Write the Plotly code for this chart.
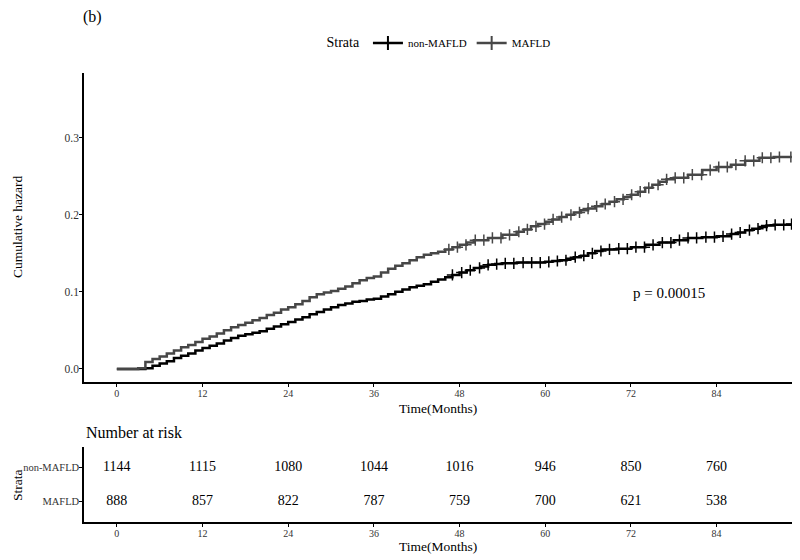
import numpy as np
import plotly.graph_objects as go

# ---------------- data ----------------
groups = ["non-MAFLD", "MAFLD"]
colors = {"non-MAFLD": "#000000", "MAFLD": "#474747"}

nonmafld_time = [0, 4, 5, 6, 7, 8, 9, 10, 11, 12, 13, 14, 15, 16, 17, 18, 19, 20, 21, 22, 23, 24,
                 25, 26, 27, 28, 29, 30, 31, 32, 33, 34, 35, 36, 37, 38, 39, 40, 41, 42, 43, 44,
                 45, 46, 47, 48, 49, 50, 51, 52, 53, 54, 56, 58, 60, 61, 62, 63, 64, 65, 66,
                 67, 68, 70, 72, 74, 76, 78, 80, 82, 84, 86, 87, 88, 89, 90, 91, 92, 94.5]
nonmafld_haz = [0, 0.001, 0.004, 0.007, 0.010, 0.014, 0.017, 0.020, 0.024, 0.027, 0.030, 0.033,
                0.037, 0.040, 0.043, 0.045, 0.047, 0.049, 0.052, 0.055, 0.058, 0.061, 0.064,
                0.067, 0.071, 0.074, 0.077, 0.080, 0.083, 0.085, 0.087, 0.088, 0.090, 0.091,
                0.094, 0.097, 0.100, 0.103, 0.106, 0.108, 0.110, 0.113, 0.116, 0.119, 0.122,
                0.125, 0.128, 0.131, 0.133, 0.135, 0.136, 0.137, 0.138, 0.138, 0.139, 0.140,
                0.141, 0.143, 0.145, 0.147, 0.150, 0.153, 0.155, 0.156, 0.158, 0.161, 0.164,
                0.167, 0.170, 0.171, 0.172, 0.175, 0.177, 0.180, 0.182, 0.184, 0.186, 0.187, 0.188]

mafld_time = [0, 3, 4, 5, 6, 7, 8, 9, 10, 11, 12, 13, 14, 15, 16, 17, 18, 19, 20, 21, 22, 23, 24,
              25, 26, 27, 28, 29, 30, 31, 32, 33, 34, 35, 36, 37, 38, 39, 40, 41, 42, 43, 44,
              45, 46, 47, 48, 49, 50, 52, 54, 56, 57, 58, 59, 60, 61, 62, 63, 64, 65, 66, 67,
              68, 69, 70, 71, 72, 73, 74, 75, 76, 77, 78, 80, 82, 84, 86, 88, 90, 92, 94.5]
mafld_haz = [0, 0.001, 0.009, 0.013, 0.016, 0.020, 0.024, 0.028, 0.031, 0.035, 0.039, 0.042,
             0.046, 0.050, 0.054, 0.057, 0.060, 0.063, 0.066, 0.070, 0.073, 0.077, 0.080, 0.084,
             0.088, 0.093, 0.097, 0.099, 0.101, 0.104, 0.107, 0.111, 0.115, 0.118, 0.120, 0.125,
             0.130, 0.134, 0.137, 0.141, 0.145, 0.148, 0.150, 0.152, 0.155, 0.158, 0.161, 0.164,
             0.167, 0.170, 0.174, 0.178, 0.181, 0.185, 0.188, 0.191, 0.194, 0.197, 0.200, 0.203,
             0.206, 0.208, 0.211, 0.214, 0.217, 0.220, 0.223, 0.226, 0.230, 0.235, 0.239, 0.243,
             0.246, 0.248, 0.252, 0.258, 0.262, 0.265, 0.270, 0.274, 0.275, 0.275]

nonmafld_censor = [47.0, 48.3, 49.5, 50.8, 52.0, 53.2, 54.4, 55.6, 56.9, 58.1, 59.3, 60.5, 61.7,
                   62.9, 64.2, 65.4, 66.6, 67.8, 69.0, 70.3, 71.5, 72.7, 73.9, 75.1, 76.4, 77.6,
                   78.8, 80.0, 81.2, 82.5, 83.7, 84.9, 86.1, 87.3, 88.6, 89.8, 91.0, 92.2, 93.4, 94.5]
mafld_censor = [46.5, 47.7, 48.9, 50.2, 51.4, 52.6, 53.8, 55.0, 56.3, 57.5, 58.7, 59.9, 61.1,
                62.3, 63.6, 64.8, 66.0, 67.2, 68.4, 69.7, 70.9, 72.1, 73.3, 74.5, 75.8, 77.0,
                78.2, 79.4, 80.6, 81.9, 83.1, 84.3, 85.5, 86.7, 88.0, 89.2, 90.4, 91.6, 92.8, 94.4]

risk_times = [0, 12, 24, 36, 48, 60, 72, 84]
risk_nonmafld = [1144, 1115, 1080, 1044, 1016, 946, 850, 760]
risk_mafld = [888, 857, 822, 787, 759, 700, 621, 538]

x_ticks = [0, 12, 24, 36, 48, 60, 72, 84]
y_ticks = [0.0, 0.1, 0.2, 0.3]
y_ticktext = ["0.0", "0.1", "0.2", "0.3"]
p_text = "p = 0.00015"

series = {
    "non-MAFLD": (nonmafld_time, nonmafld_haz, nonmafld_censor, risk_nonmafld),
    "MAFLD": (mafld_time, mafld_haz, mafld_censor, risk_mafld),
}

# ---------------- figure ----------------
W, H = 800, 560
FONT = "Liberation Serif"
OFF = 8  # page body margin in the browser

def px_x(p):
    return (p - OFF) / W

def px_y(p):
    return 1 - (p - OFF) / H

fig = go.Figure()

for g in groups:
    t, h, cens, risk = series[g]
    fig.add_trace(go.Scatter(x=t, y=h, mode="lines", line=dict(color=colors[g], width=2.5, shape="hv"),
                             showlegend=False, xaxis="x", yaxis="y", hoverinfo="skip"))
    idx = np.searchsorted(np.array(t), np.array(cens), side="right") - 1
    ch = [h[i] for i in idx]
    fig.add_trace(go.Scatter(x=cens, y=ch, mode="markers",
                             marker=dict(symbol="cross-thin", size=8, line=dict(color=colors[g], width=1.5)),
                             showlegend=False, xaxis="x", yaxis="y", hoverinfo="skip"))
    # legend entry
    fig.add_trace(go.Scatter(x=[None], y=[None], mode="lines+markers", name=g,
                             line=dict(color=colors[g], width=2.5),
                             marker=dict(symbol="cross-thin", size=10, line=dict(color=colors[g], width=2)),
                             xaxis="x", yaxis="y"))

# risk table text
for g in groups:
    risk = series[g][3]
    fig.add_trace(go.Scatter(x=risk_times, y=[g] * len(risk_times), mode="text",
                             text=[str(v) for v in risk], textfont=dict(family=FONT, size=14, color="#000000"),
                             showlegend=False, xaxis="x2", yaxis="y2", hoverinfo="skip"))

xrange = [-4.6, 94.7]
dom_x = [px_x(84), px_x(793)]

def ax(size):
    return dict(showline=True, linecolor="#000000", linewidth=1.5, ticks="outside", ticklen=3,
                tickcolor="#000000", tickwidth=1.2, showgrid=False, zeroline=False,
                ticklabelstandoff=-2,
                tickfont=dict(family=FONT, size=size, color="#333333"))

fig.update_layout(
    width=W, height=H,
    margin=dict(l=0, r=0, t=0, b=0, autoexpand=False),
    paper_bgcolor="white", plot_bgcolor="white",
    font=dict(family=FONT, color="#000000"),
    xaxis=dict(domain=dom_x, range=xrange, tickvals=x_ticks, anchor="y", **ax(10)),
    yaxis=dict(domain=[px_y(382), px_y(73)], range=[-0.017, 0.384], tickvals=y_ticks,
               ticktext=y_ticktext, anchor="x", **ax(11.5)),
    xaxis2=dict(domain=dom_x, range=xrange, tickvals=x_ticks, anchor="y2", **ax(10)),
    yaxis2=dict(domain=[px_y(522), px_y(447)], range=[-0.6, 1.6], type="category",
                categoryorder="array", categoryarray=["MAFLD", "non-MAFLD"], anchor="x2", **ax(10.5)),
    legend=dict(orientation="h", x=px_x(440), xanchor="center", y=px_y(43), yanchor="middle",
                title=dict(text="Strata", font=dict(family=FONT, size=14, color="#000000")),
                font=dict(family=FONT, size=11, color="#000000"), itemwidth=30,
                bgcolor="rgba(0,0,0,0)"),
)

annotations = [
    dict(text="(b)", x=px_x(81), y=px_y(17), xanchor="left", yanchor="middle", showarrow=False,
         font=dict(family=FONT, size=16, color="#000000")),
    dict(text="Cumulative hazard", x=px_x(18), y=px_y(227), textangle=-90, xanchor="center", yanchor="middle",
         showarrow=False, font=dict(family=FONT, size=13.5, color="#000000")),
    dict(text="Time(Months)", x=px_x(438), y=px_y(408), xanchor="center", yanchor="middle", showarrow=False,
         font=dict(family=FONT, size=13.5, color="#000000")),
    dict(text="Number at risk", x=px_x(84), y=px_y(432), xanchor="left", yanchor="middle", showarrow=False,
         font=dict(family=FONT, size=16, color="#000000")),
    dict(text="Strata", x=px_x(17), y=px_y(485), textangle=-90, xanchor="center", yanchor="middle",
         showarrow=False, font=dict(family=FONT, size=13.5, color="#000000")),
    dict(text="Time(Months)", x=px_x(438), y=px_y(546), xanchor="center", yanchor="middle", showarrow=False,
         font=dict(family=FONT, size=13.5, color="#000000")),
]
for a in annotations:
    a.update(xref="paper", yref="paper")
annotations.append(dict(text=p_text, x=77.4, y=0.099, xref="x", yref="y", xanchor="center", yanchor="middle",
                        showarrow=False, font=dict(family=FONT, size=15, color="#000000")))
fig.update_layout(annotations=annotations)

fig.write_html("out.html")
